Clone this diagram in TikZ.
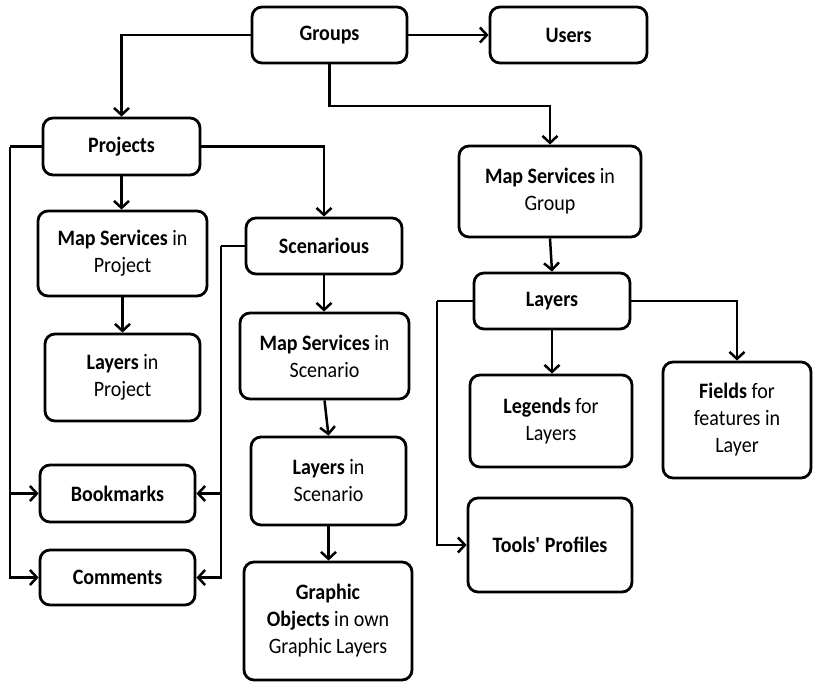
\documentclass[tikz,border=0pt]{standalone}
\usepackage{fontspec}
\setmainfont{Carlito}[FakeStretch=0.91]
\usetikzlibrary{arrows.meta}
\begin{document}
\begin{tikzpicture}[x=1pt,y=-1pt,
  box/.style={draw=black,line width=2.8pt,rounded corners=10pt,inner sep=0pt,align=center,
    font=\fontsize{22}{27}\selectfont},
  arr/.style={line width=2.5pt,-{Straight Barb[length=7pt,width=15pt,line width=2.5pt]}},
  ln/.style={line width=2.5pt}]
\useasboundingbox (0,0) rectangle (813,682);
\node[box,minimum width=155pt,minimum height=56pt] (groups) at (329.5,35) {\textbf{Groups}};
\node[box,minimum width=157pt,minimum height=56pt] (users) at (568.5,35) {\textbf{Users}};
\node[box,minimum width=157pt,minimum height=57pt] (projects) at (121.5,146.5) {\textbf{Projects}};
\node[box,minimum width=169pt,minimum height=85pt] (msp) at (122.5,253.5) {\textbf{Map Services} in\\Project};
\node[box,minimum width=155pt,minimum height=87pt] (layersp) at (122.5,377.5) {\textbf{Layers} in\\Project};
\node[box,minimum width=156pt,minimum height=56pt] (scen) at (324,246) {\textbf{Scenarious}};
\node[box,minimum width=169pt,minimum height=86pt] (mss) at (324.5,356) {\textbf{Map Services} in\\Scenario};
\node[box,minimum width=155pt,minimum height=88pt] (layerss) at (328.5,481) {\textbf{Layers} in\\Scenario};
\node[box,minimum width=168pt,minimum height=118pt] (graphic) at (328,621) {\textbf{Graphic}\\\textbf{Objects} in own\\Graphic Layers};
\node[box,minimum width=155pt,minimum height=57pt] (bookmarks) at (117.5,493.5) {\textbf{Bookmarks}};
\node[box,minimum width=155pt,minimum height=55pt] (comments) at (117.5,577.5) {\textbf{Comments}};
\node[box,minimum width=182pt,minimum height=91pt] (msg) at (550,191.5) {\textbf{Map Services} in\\Group};
\node[box,minimum width=156pt,minimum height=56pt] (layersg) at (552,301) {\textbf{Layers}};
\node[box,minimum width=162pt,minimum height=92pt] (legends) at (551,421) {\textbf{Legends} for\\Layers};
\node[box,minimum width=148pt,minimum height=116pt] (fields) at (737,420) {\textbf{Fields} for\\features in\\Layer};
\node[box,minimum width=164pt,minimum height=94pt] (tools) at (550,545) {\textbf{Tools\textquotesingle{} Profiles}};
\coordinate (g1) at (329.5,106);
\coordinate (pl) at (10,146.5);
\coordinate (sl) at (221,246);
\coordinate (ll) at (437,301);
\draw[arr] (groups) -- (users);
\draw[arr] (groups.west) -| (projects.north);
\draw[arr] (groups.south) -- (g1) -| (msg.north);
\draw[arr] (projects.south) -- (projects.south |- msp.north);
\draw[arr] (projects.east) -| (scen.north);
\draw[ln] (projects.west) -- (pl);
\draw[arr] (pl) |- (bookmarks.west);
\draw[arr] (pl) |- (comments.west);
\draw[arr] (msp.south) -- (msp.south |- layersp.north);
\draw[ln] (scen.west) -- (sl);
\draw[arr] (sl) |- (bookmarks.east);
\draw[arr] (sl) |- (comments.east);
\draw[arr] (scen.south) -- (scen.south |- mss.north);
\draw[arr] (mss.south) -- (layerss.north);
\draw[arr] (layerss.south) -- (layerss.south |- graphic.north);
\draw[arr] (msg.south) -- (layersg.north);
\draw[ln] (layersg.west) -- (ll);
\draw[arr] (ll) |- (tools.west);
\draw[arr] (layersg.south) -- (layersg.south |- legends.north);
\draw[arr] (layersg.east) -| (fields.north);
\end{tikzpicture}
\end{document}
